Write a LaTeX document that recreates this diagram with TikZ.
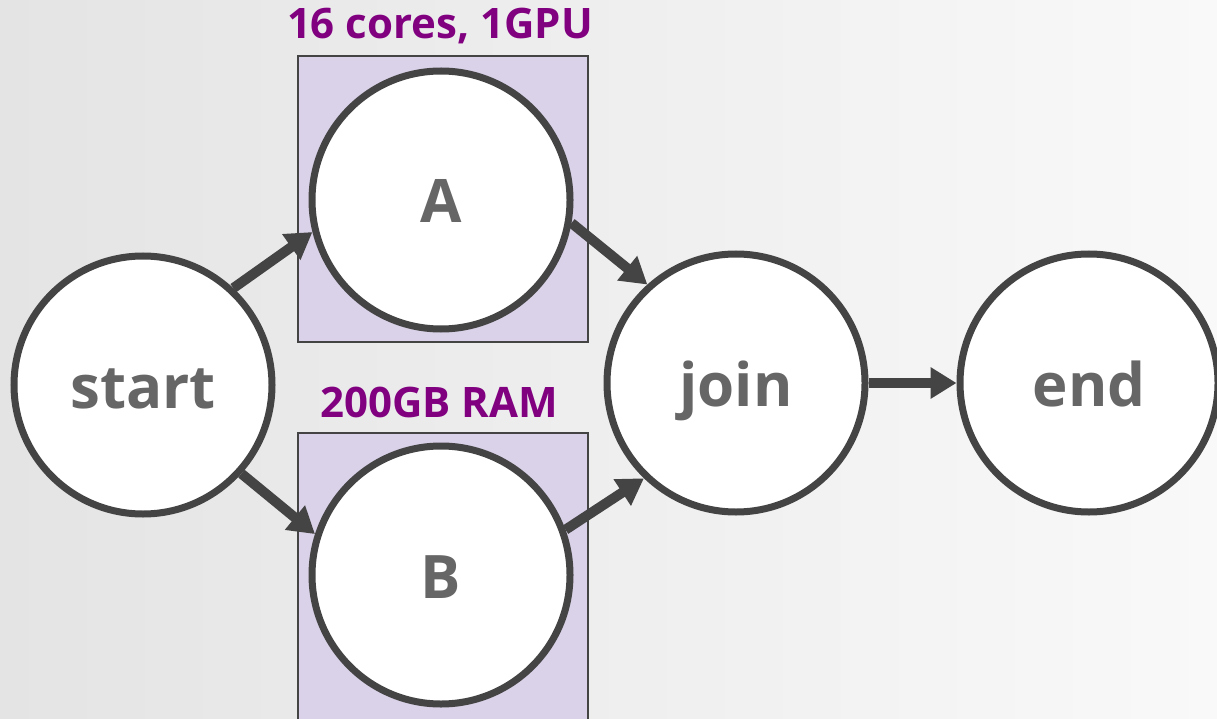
\documentclass[tikz,border=0pt]{standalone}
\usepackage{fontspec}
\setmainfont{Open Sans}
\usetikzlibrary{arrows.meta}
\definecolor{ink}{HTML}{444444}
\definecolor{labelgray}{HTML}{666666}
\definecolor{resource}{HTML}{800080}
\definecolor{boxfill}{HTML}{DAD2E8}
\definecolor{bgleft}{HTML}{E4E4E4}
\definecolor{bgright}{HTML}{F9F9F9}
\tikzset{
  stepnode/.style={circle, draw=ink, line width=7pt, fill=white,
    minimum size=258pt, inner sep=0pt, text=labelgray,
    text height=46pt, text depth=0pt,
    font=\bfseries\fontsize{60}{68}\selectfont},
  resbox/.style={draw=ink, line width=2pt, fill=boxfill},
  reslabel/.style={text=resource, font=\bfseries\fontsize{42}{48}\selectfont,
    inner sep=0pt, anchor=base},
  flow/.style={draw=ink, line width=10pt,
    -{Triangle[length=26pt,width=30pt]}}
}
\begin{document}
\begin{tikzpicture}[x=1pt,y=-1pt]
\useasboundingbox (0,0) rectangle (1217,719);
\clip (0,0) rectangle (1217,719);
% background
\shade[left color=bgleft, right color=bgright] (0,0) rectangle (1217,719);
% resource boxes
\draw[resbox] (298,56) rectangle (588,342);
\draw[resbox] (298,433) rectangle (588,730);
\node[reslabel] (resA) at (440,39) {16 cores, 1GPU};
\node[reslabel] (resB) at (439,417) {200GB RAM};
% steps
\node[stepnode] (start) at (143,385) {start};
\node[stepnode] (A) at (441,200) {A};
\node[stepnode] (B) at (441,575) {B};
\node[stepnode] (join) at (736,383) {join};
\node[stepnode] (end) at (1089,383) {end};
% transitions
\draw[flow] (start.47) -- (A.194);
\draw[flow] (start.-42) -- (B.162);
\draw[flow] (A.-10) -- (join.132);
\draw[flow] (B.20) -- (join.226);
\draw[flow] (join.east) -- (end.west);
\end{tikzpicture}
\end{document}
